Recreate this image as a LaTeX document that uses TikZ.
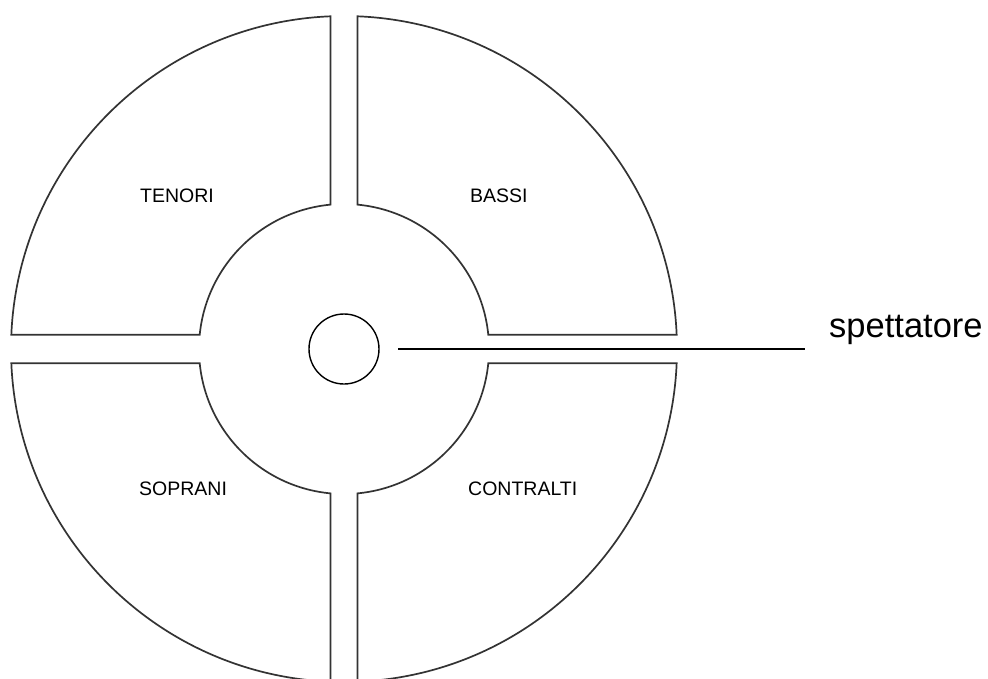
\documentclass[tikz,border=0pt]{standalone}
\usepackage{fontspec}
\setmainfont{Liberation Sans}
\begin{document}
\begin{tikzpicture}[x=1pt,y=1pt,
  seat/.style={draw=black!80, line width=1.7pt, line join=miter},
  part/.style={font=\fontsize{19.5}{22}\selectfont, anchor=west, inner sep=0pt, text=black},
  viewer/.style={circle, draw=black, line width=1.4pt, minimum size=70pt, inner sep=0pt},
  tag/.style={font=\fontsize{34.5}{40}\selectfont, anchor=base west, inner sep=0pt},
  lead/.style={draw=black, line width=1.4pt}]
\pgfmathsetmacro{\RadOut}{333}
\pgfmathsetmacro{\RadIn}{145}
\pgfmathsetmacro{\GapX}{13.5}
\pgfmathsetmacro{\GapY}{14.3}
\pgfmathsetmacro{\aOh}{asin(\GapY/\RadOut)}
\pgfmathsetmacro{\aOv}{acos(\GapX/\RadOut)}
\pgfmathsetmacro{\aIh}{asin(\GapY/\RadIn)}
\pgfmathsetmacro{\aIv}{acos(\GapX/\RadIn)}
\useasboundingbox (-344,-329) rectangle (644,349);
\clip (-344,-329) rectangle (644,349);
\fill[white] (-344,-329) rectangle (644,349);
\foreach \sx/\sy in {1/1,-1/1,-1/-1,1/-1}{
  \begin{scope}[xscale=\sx,yscale=\sy]
    \draw[seat] (\aOh:\RadOut) arc[start angle=\aOh, end angle=\aOv, radius=\RadOut]
      -- (\aIv:\RadIn) arc[start angle=\aIv, end angle=\aIh, radius=\RadIn] -- cycle;
  \end{scope}
}
\node[part] (tenori) at (-204,153.6) {TENORI};
\node[part] (bassi) at (126,153.5) {BASSI};
\node[part] (soprani) at (-205,-139.5) {SOPRANI};
\node[part] (contralti) at (124,-140) {CONTRALTI};
\node[viewer] (spect) at (0,0) {};
\node[tag] (lbl) at (485,12) {spettatore};
\draw[lead, shorten <=18.5pt, shorten >=24pt] (spect.east) -- (spect.east -| lbl.west);
\end{tikzpicture}
\end{document}
